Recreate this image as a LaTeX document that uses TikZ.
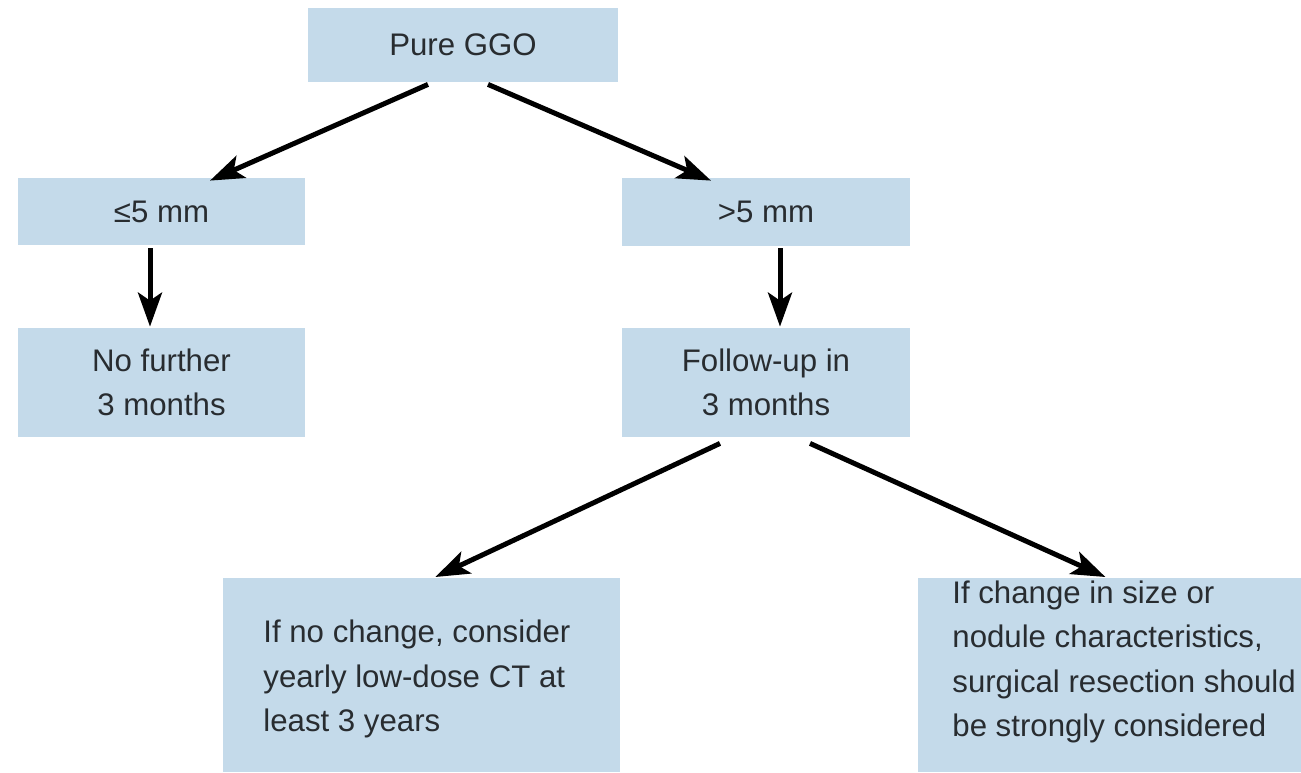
\documentclass[tikz,border=0pt]{standalone}
\usepackage{fontspec}
\setmainfont{Liberation Sans}
\usetikzlibrary{arrows.meta,calc}
\definecolor{boxfill}{RGB}{196,218,234}
\definecolor{txt}{RGB}{40,44,48}
\begin{document}
\begin{tikzpicture}[x=0.5pt,y=-0.5pt,
  box/.style={fill=boxfill, draw=none, inner sep=0pt, align=center, text=txt,
    font=\fontsize{15.6pt}{22.3pt}\selectfont},
  bigbox/.style={fill=boxfill, draw=none, inner sep=0pt, anchor=north west, text=txt,
    font=\fontsize{15.6pt}{22.3pt}\selectfont},
  arr/.style={-{Stealth[length=17pt,width=12pt,inset=4pt]}, line width=2.5pt, black}]
\useasboundingbox (0,0) rectangle (1301,772);
\node[box, minimum width=155pt, minimum height=37pt] (ggo) at (463,45) {Pure GGO};
\node[box, minimum width=143.5pt, minimum height=33.5pt] (le5) at (161.5,211.5) {≤5 mm};
\node[box, minimum width=144pt, minimum height=34pt] (gt5) at (766,212) {>5 mm};
\node[box, minimum width=143.5pt, minimum height=54.5pt] (nof) at (161.5,382.5) {No further\\3 months};
\node[box, minimum width=144pt, minimum height=54.5pt] (fup) at (766,382.5) {Follow-up in\\3 months};
\node[bigbox] (nochg) at (223,578) {\parbox[t][97pt][t]{198.5pt}{\raggedright\leftskip=20pt\vspace*{20.8pt}If no change, consider\\yearly low-dose CT at\\least 3 years}};
\node[bigbox] (chg) at (918,578) {\parbox[t][97pt][t]{191.5pt}{\raggedright\leftskip=17pt\vspace*{1pt}If change in size or\\nodule characteristics,\\surgical resection should\\be strongly considered}};
\draw[arr] ($(ggo.south)+(-35,2)$) -- ($(le5.north)+(48.5,3)$);
\draw[arr] ($(ggo.south)+(25,2)$) -- ($(gt5.north)+(-55,3)$);
\draw[arr] ($(le5.south)+(-11.5,3)$) -- ($(nof.north)+(-11.5,-1)$);
\draw[arr] ($(gt5.south)+(14,2)$) -- ($(fup.north)+(14,-1)$);
\draw[arr] ($(fup.south)+(-46,6)$) -- ($(nochg.north)+(13.5,-1)$);
\draw[arr] ($(fup.south)+(44,6)$) -- ($(chg.north)+(-4.5,-1)$);
\end{tikzpicture}
\end{document}
